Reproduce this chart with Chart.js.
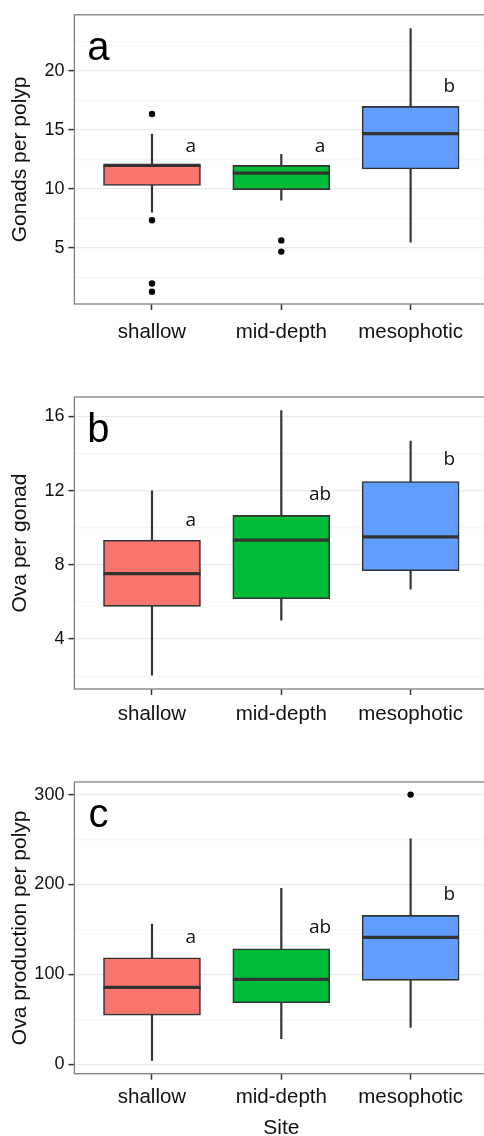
<!DOCTYPE html>
<html>
<head>
<meta charset="utf-8">
<script src="https://cdn.jsdelivr.net/npm/chart.js@4.4.1/dist/chart.umd.min.js"></script>
<style>
  html, body { margin: 0; padding: 0; background: #fff; overflow: hidden; width: 484px; height: 1136px; }
  #wrap { position: absolute; left: 0; top: 0; width: 484px; height: 1136px; overflow: hidden; }
  canvas { position: absolute; left: 0; }
</style>
</head>
<body>
<div id="wrap">
<canvas id="chartA" width="520" height="372" style="top:0px"></canvas>
<canvas id="chartB" width="520" height="382" style="top:372px"></canvas>
<canvas id="chartC" width="520" height="382" style="top:754px"></canvas>
</div>
<script>
// categories
const sites = ["shallow", "mid-depth", "mesophotic"];
const siteColors = ["#F8766D", "#00BA38", "#619CFF"];

// panel a - gonads per polyp
const gonadsLow = [8.05, 9.05, 5.5];
const gonadsQ1 = [10.3, 9.95, 11.7];
const gonadsMedian = [12.0, 11.35, 14.7];
const gonadsQ3 = [12.07, 12.0, 17.0];
const gonadsHigh = [14.65, 12.95, 23.6];
const gonadsOutliers = [[16.35, 7.35, 2.0, 1.3], [5.65, 4.7], []];
const gonadsLetters = ["a", "a", "b"];
const gonadsLetterY = [13.6, 13.6, 18.7];
const gonadsTicks = [5, 10, 15, 20];

// panel b - ova per gonad
const ovaLow = [2.05, 5.02, 6.69];
const ovaQ1 = [5.76, 6.17, 7.68];
const ovaMedian = [7.52, 9.33, 9.51];
const ovaQ3 = [9.33, 10.66, 12.49];
const ovaHigh = [11.98, 16.31, 14.66];
const ovaOutliers = [[], [], []];
const ovaLetters = ["a", "ab", "b"];
const ovaLetterY = [10.4, 11.8, 13.67];
const ovaTicks = [4, 8, 12, 16];

// panel c - ova production per polyp
const prodLow = [4.3, 28.4, 41];
const prodQ1 = [54.7, 68.4, 93.3];
const prodMedian = [85.5, 94.4, 141.2];
const prodQ3 = [118.5, 128.5, 165.6];
const prodHigh = [156, 195.7, 250.8];
const prodOutliers = [[], [], [300]];
const prodLetters = ["a", "ab", "b"];
const prodLetterY = [141.2, 151.8, 189];
const prodTicks = [0, 100, 200, 300];

const FONT = "'Liberation Sans', Arial, sans-serif";

// frame, panel letter and significance letters
const panelDecor = {
  id: 'panelDecor',
  afterDatasetsDraw(chart, args, opts) {
    const ctx = chart.ctx, xs = chart.scales.x, ys = chart.scales.y;
    ctx.save();
    ctx.fillStyle = '#111';
    ctx.font = "19px 'Open Sans', sans-serif";
    ctx.textAlign = 'center';
    ctx.textBaseline = 'middle';
    opts.letters.forEach((t, i) => {
      ctx.fillText(t, xs.getPixelForValue(i + 1.3), ys.getPixelForValue(opts.letterY[i]));
    });
    ctx.restore();
  },
  afterDraw(chart, args, opts) {
    const ctx = chart.ctx, a = chart.chartArea;
    ctx.save();
    ctx.strokeStyle = '#7f7f7f';
    ctx.lineWidth = 1.3;
    ctx.strokeRect(a.left, a.top, a.right - a.left, a.bottom - a.top);
    ctx.fillStyle = '#000';
    ctx.font = "40px " + FONT;
    ctx.textAlign = 'center';
    ctx.textBaseline = 'alphabetic';
    ctx.fillText(opts.panel, a.left + 24, a.top + 45);
    ctx.restore();
  }
};

function makePanel(id, p) {
  const minorStep = (p.ticks[1] - p.ticks[0]) / 2;
  const allTicks = [];
  for (let v = p.ticks[0] - 2 * minorStep; v <= p.yMax; v += minorStep) {
    if (v >= p.yMin) allTicks.push(v);
  }
  const isMajor = v => p.ticks.some(t => Math.abs(t - v) < 1e-9);

  const outlierPts = [];
  p.outliers.forEach((arr, i) => arr.forEach(v => outlierPts.push({ x: i + 1, y: v })));

  new Chart(document.getElementById(id), {
    type: 'bar',
    data: {
      datasets: [
        {
          type: 'scatter',
          data: outlierPts,
          pointStyle: 'circle',
          pointRadius: 3.2,
          backgroundColor: '#000',
          borderWidth: 0,
          order: 1
        },
        {
          type: 'scatter',
          data: p.median.map((v, i) => ({ x: i + 1, y: v })),
          pointStyle: 'line',
          pointRadius: 48.5,
          borderColor: '#333',
          borderWidth: 3.2,
          order: 2
        },
        {
          data: p.q1.map((v, i) => ({ x: i + 1, y: [v, p.q3[i]] })),
          backgroundColor: siteColors,
          borderColor: '#333',
          borderWidth: 1.6,
          borderSkipped: false,
          barThickness: 97,
          grouped: false,
          order: 3
        },
        {
          data: p.low.map((v, i) => ({ x: i + 1, y: [v, p.high[i]] })),
          backgroundColor: '#333',
          borderWidth: 0,
          barThickness: 1.5,
          grouped: false,
          order: 4
        }
      ]
    },
    options: {
      responsive: false,
      animation: false,
      events: [],
      layout: { autoPadding: false, padding: { top: p.padTop, right: 31.8, left: 0, bottom: 0 } },
      plugins: {
        legend: { display: false },
        tooltip: { enabled: false },
        panelDecor: { panel: p.panel, letters: p.letters, letterY: p.letterY }
      },
      scales: {
        x: {
          type: 'linear',
          offset: false,
          min: 0.4,
          max: 3.6,
          afterBuildTicks: s => { s.ticks = sites.map((_, i) => ({ value: i + 1 })); },
          afterFit: s => { s.height = p.xHeight; },
          ticks: {
            callback: v => sites[v - 1],
            color: '#111',
            font: { family: FONT, size: 20.5 },
            padding: p.labelPad,
            maxRotation: 0,
            autoSkip: false
          },
          grid: { drawOnChartArea: false, offset: false, tickLength: 6, tickColor: '#333', tickWidth: 1.5 },
          border: { display: false },
          title: {
            display: !!p.xTitle,
            text: p.xTitle || '',
            color: '#111',
            font: { family: FONT, size: 21 },
            padding: { top: 0, bottom: -5 }
          }
        },
        y: {
          min: p.yMin,
          max: p.yMax,
          afterBuildTicks: s => { s.ticks = allTicks.map(v => ({ value: v })); },
          afterFit: s => { s.width = 74.4; },
          ticks: {
            callback: v => isMajor(v) ? String(v) : '',
            color: '#111',
            font: { family: FONT, size: 18 },
            padding: 4
          },
          grid: {
            color: c => isMajor(c.tick.value) ? '#ebebeb' : '#f6f6f6',
            tickColor: c => isMajor(c.tick.value) ? '#333' : 'rgba(0,0,0,0)',
            tickLength: 6,
            tickWidth: 1.5,
            lineWidth: 1.2
          },
          border: { display: false },
          title: {
            display: true,
            text: p.yTitle,
            color: '#111',
            font: { family: FONT, size: 21 },
            padding: { top: 8, bottom: 0 }
          }
        }
      }
    },
    plugins: [panelDecor]
  });
}

makePanel('chartA', {
  panel: 'a', yTitle: 'Gonads per polyp', yMin: 0.26, yMax: 24.76, ticks: gonadsTicks,
  low: gonadsLow, q1: gonadsQ1, median: gonadsMedian, q3: gonadsQ3, high: gonadsHigh,
  outliers: gonadsOutliers, letters: gonadsLetters, letterY: gonadsLetterY,
  padTop: 12, xHeight: 68, labelPad: 10
});
makePanel('chartB', {
  panel: 'b', yTitle: 'Ova per gonad', yMin: 1.31, yMax: 17.04, ticks: ovaTicks,
  low: ovaLow, q1: ovaQ1, median: ovaMedian, q3: ovaQ3, high: ovaHigh,
  outliers: ovaOutliers, letters: ovaLetters, letterY: ovaLetterY,
  padTop: 25, xHeight: 65, labelPad: 7
});
makePanel('chartC', {
  panel: 'c', yTitle: 'Ova production per polyp', yMin: -10.5, yMax: 314, ticks: prodTicks,
  low: prodLow, q1: prodQ1, median: prodMedian, q3: prodQ3, high: prodHigh,
  outliers: prodOutliers, letters: prodLetters, letterY: prodLetterY,
  padTop: 28, xHeight: 62.3, labelPad: 5, xTitle: 'Site'
});
</script>
</body>
</html>
